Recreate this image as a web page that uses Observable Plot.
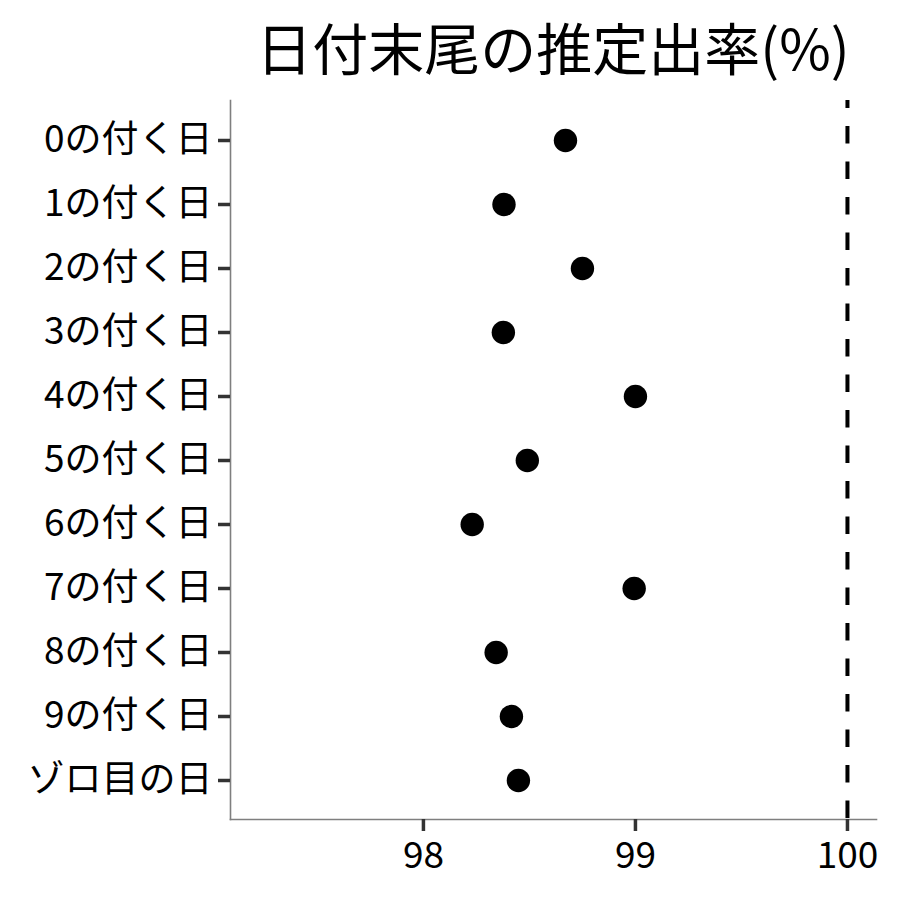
<!DOCTYPE html>
<html>
<head>
<meta charset="utf-8">
<script src="https://cdn.jsdelivr.net/npm/d3@7"></script>
<script src="https://cdn.jsdelivr.net/npm/@observablehq/plot@0.6"></script>
<style>
  html, body { margin: 0; padding: 0; background: #fff; }
  #title {
    box-sizing: border-box;
    width: 900px; height: 92px; line-height: 92px;
    padding-left: 230px; padding-right: 24px;
    text-align: center;
    font-family: "Noto Sans CJK JP", sans-serif;
    font-size: 56px; color: #000; white-space: nowrap;
  }
</style>
</head>
<body>
<div id="title">日付末尾の推定出率(%)</div>
<div id="chart"></div>
<script>
const categories = ["0の付く日","1の付く日","2の付く日","3の付く日","4の付く日","5の付く日","6の付く日","7の付く日","8の付く日","9の付く日","ゾロ目の日"];
const rates = [98.67, 98.38, 98.75, 98.377, 99.0, 98.49, 98.23, 98.994, 98.343, 98.415, 98.448];
const xTicks = [98, 99, 100];
const reference = [100];

const data = categories.map((c, i) => ({cat: c, rate: rates[i]}));

const chart = Plot.plot({
  width: 900,
  height: 808,
  marginLeft: 230,
  marginRight: 24,
  marginTop: 8,
  marginBottom: 81,
  style: {fontFamily: "'Noto Sans CJK JP', sans-serif", background: "#fff", color: "#000"},
  x: {domain: [97.09, 100.137], ticks: xTicks, label: null},
  y: {type: "point", domain: categories, padding: 0.6, label: null},
  marks: [
    Plot.frame({anchor: "left", stroke: "#7f7f7f", strokeWidth: 1.6}),
    Plot.frame({anchor: "bottom", stroke: "#7f7f7f", strokeWidth: 1.6}),
    Plot.axisY({tickSize: 12, tickPadding: 6, fontSize: 37, stroke: "#333", strokeWidth: 3.5, fill: "#000", label: null}),
    Plot.axisX({ticks: xTicks, tickFormat: d => String(d), tickSize: 12, tickPadding: 10, fontSize: 37, stroke: "#333", strokeWidth: 3.5, fill: "#000", label: null}),
    Plot.ruleX(reference, {stroke: "#000", strokeWidth: 4, strokeDasharray: "17.5,18", strokeDashoffset: 9.5}),
    Plot.dot(data, {x: "rate", y: "cat", r: 11.7, fill: "#000", stroke: null})
  ]
});
document.getElementById("chart").appendChild(chart);
</script>
</body>
</html>
